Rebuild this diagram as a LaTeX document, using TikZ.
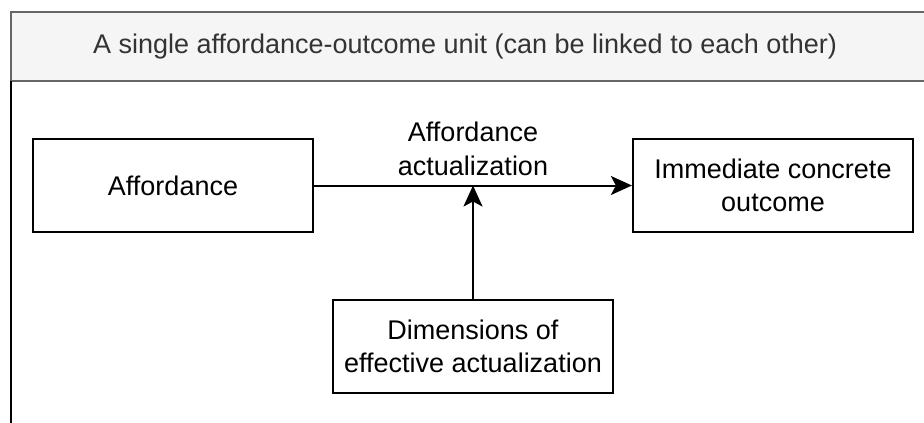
\documentclass[tikz,border=0pt]{standalone}
\usepackage{fontspec}
\setmainfont{Liberation Sans}
\usetikzlibrary{arrows.meta}
\definecolor{headfill}{HTML}{F5F5F5}
\definecolor{headline}{HTML}{666666}
\definecolor{headtext}{HTML}{333333}
\begin{document}
\begin{tikzpicture}[x=1pt,y=-1pt,
  txt/.style={font=\fontsize{27}{33.5}\selectfont, align=center, inner sep=0pt},
  box/.style={txt, draw=black, line width=2.2pt, minimum width=280pt, minimum height=93pt},
  arr/.style={line width=2pt, -{Stealth[length=21pt, width=19pt, inset=5pt]}}]
  \useasboundingbox (0,0) rectangle (924,423);
  \clip (0,0) rectangle (924,423);
  % container: grey title strip and the open frame below it
  \draw[headline, fill=headfill, line width=2.2pt] (11,12) rectangle (940,81);
  \draw[black, line width=2.4pt] (11,81) -- (11,430);
  \node[txt, text=headtext] (title) at (465,47) {A single affordance-outcome unit (can be linked to each other)};
  % boxes
  \node[box] (aff) at (173,185.5) {Affordance};
  \node[box] (out) at (773,185.5) {Immediate concrete\\outcome};
  \node[box] (dim) at (473,346.5) {Dimensions of\\effective actualization};
  % edge label
  \node[txt] (act) at (473,149) {Affordance\\actualization};
  % connectors
  \draw[arr] (aff.east) -- (out.west);
  \draw[arr] (dim.north) -- (dim.north |- aff.east);
\end{tikzpicture}
\end{document}
